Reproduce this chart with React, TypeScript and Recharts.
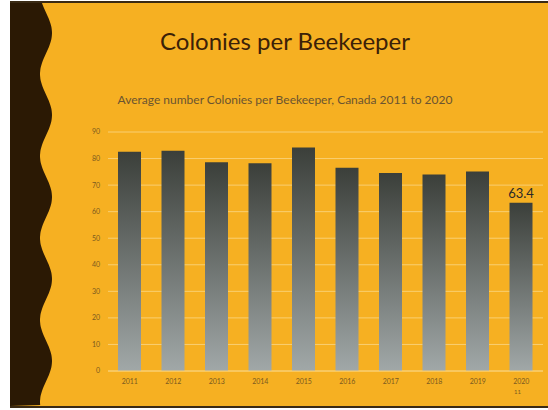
import React from 'react';
import {
    BarChart,
    Bar,
    XAxis,
    YAxis,
    CartesianGrid,
    LabelList
} from 'recharts';

const years = ['2011', '2012', '2013', '2014', '2015', '2016', '2017', '2018', '2019', '2020'];
const colonies = [82.6, 82.9, 78.6, 78.2, 84.2, 76.5, 74.6, 74.0, 75.1, 63.4];
const shownLabels = ['', '', '', '', '', '', '', '', '', '63.4'];
const yTicks = [0, 10, 20, 30, 40, 50, 60, 70, 80, 90];

const chartData = years.map((year, i) => ({
    year,
    value: colonies[i],
    label: shownLabels[i]
}));

// wavy dark strip on the left side of the slide
const wavePath = (() => {
    const period = 82;
    const amp = 6;
    const cx = 46;
    let d = 'M 10 3';
    for (let y = 3; y <= 406; y += 2) {
        const x = cx + amp * Math.sin(((y - 12.5) / period) * 2 * Math.PI);
        d += ` L ${x.toFixed(1)} ${y}`;
    }
    d += ' L 10 406 Z';
    return d;
})();

const App: React.FC = () => {
    return (
        <div style={{ position: 'absolute', left: 0, top: 0, width: 548, height: 410, background: '#ffffff', overflow: 'hidden' }}>
            <svg width={548} height={410} style={{ position: 'absolute', left: 0, top: 0 }}>
                <rect x={10} y={2} width={538} height={406} fill="#F6B022" />
                <path d={wavePath} fill="#2B1904" />
                <line x1={10} y1={2} x2={548} y2={2} stroke="#3a2a14" strokeWidth={2} />
                <line x1={10} y1={407} x2={548} y2={407} stroke="#3a2a14" strokeWidth={2} />
            </svg>

            <div style={{
                position: 'absolute', left: 60, width: 450, top: 26, textAlign: 'center',
                fontFamily: 'Lato, sans-serif', fontSize: 24, color: '#3b2108'
            }}>
                Colonies per Beekeeper
            </div>
            <div style={{
                position: 'absolute', left: 60, width: 450, top: 92, textAlign: 'center',
                fontFamily: 'Lato, sans-serif', fontSize: 12, color: '#6b5430'
            }}>
                Average number Colonies per Beekeeper, Canada 2011 to 2020
            </div>
            <div style={{
                position: 'absolute', left: 514, top: 388, fontFamily: 'Lato, sans-serif',
                fontSize: 6, color: '#7a5a20'
            }}>
                11
            </div>

            <div style={{ position: 'absolute', left: 0, top: 0 }}>
                <BarChart
                    width={548}
                    height={410}
                    data={chartData}
                    margin={{ top: 132, right: 5, bottom: 9, left: 0 }}
                    barCategoryGap="23%"
                >
                    <defs>
                        <linearGradient id="barFill" x1="0" y1="0" x2="0" y2="1">
                            <stop offset="0%" stopColor="#3b3f3a" />
                            <stop offset="100%" stopColor="#a1a8a8" />
                        </linearGradient>
                    </defs>
                    <CartesianGrid vertical={false} stroke="#f9cf72" strokeWidth={1} />
                    <XAxis
                        dataKey="year"
                        height={30}
                        axisLine={{ stroke: '#f9cf72' }}
                        tickLine={false}
                        tickSize={0}
                        tickMargin={8}
                        tick={{ fontSize: 7, fill: '#7a5a20', fontFamily: 'Lato, sans-serif' }}
                    />
                    <YAxis
                        width={108}
                        domain={[0, 90]}
                        ticks={yTicks}
                        axisLine={false}
                        tickLine={false}
                        tickSize={0}
                        tickMargin={8}
                        tick={{ fontSize: 7, fill: '#7a5a20', fontFamily: 'Lato, sans-serif' }}
                    />
                    <Bar dataKey="value" fill="url(#barFill)" isAnimationActive={false}>
                        <LabelList
                            dataKey="label"
                            position="top"
                            offset={5}
                            style={{ fontSize: 13, fill: '#2a2a28', fontFamily: 'Lato, sans-serif' }}
                        />
                    </Bar>
                </BarChart>
            </div>
        </div>
    );
};

export default App;
